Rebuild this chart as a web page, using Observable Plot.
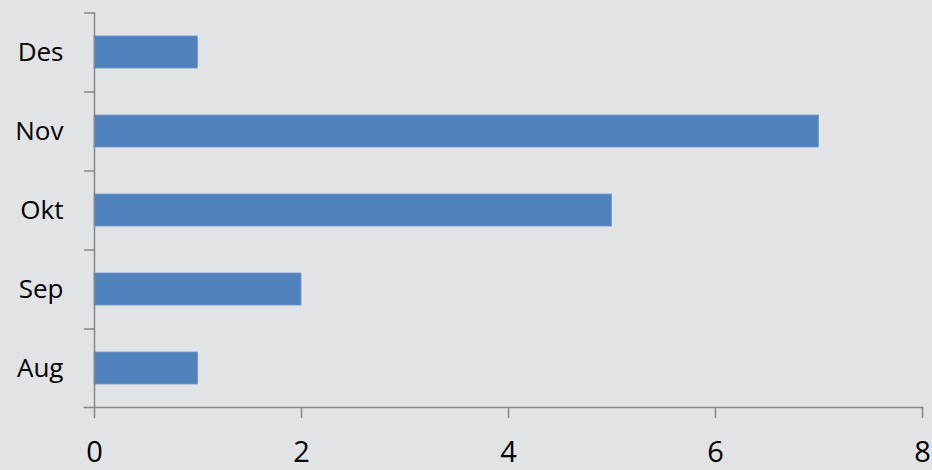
<!DOCTYPE html>
<html>
<head>
<meta charset="utf-8">
<script src="https://cdn.jsdelivr.net/npm/d3@7"></script>
<script src="https://cdn.jsdelivr.net/npm/@observablehq/plot@0.6"></script>
<style>
  html, body { margin: 0; padding: 0; background: #e2e3e5; }
  #chart { width: 932px; height: 470px; }
</style>
</head>
<body>
<div id="chart"></div>
<script>
const months = ["Des", "Nov", "Okt", "Sep", "Aug"];
const counts = [1, 7, 5, 2, 1];
const xTicks = [0, 2, 4, 6, 8];

const data = months.map((m, i) => ({month: m, value: counts[i]}));

const W = 932, H = 470;
const mTop = 12, mBottom = 63, mLeft = 94, mRight = 10;
const step = (H - mTop - mBottom) / months.length;
const axisColor = "#868686";

const chart = Plot.plot({
  width: W,
  height: H,
  marginTop: mTop,
  marginBottom: mBottom,
  marginLeft: mLeft,
  marginRight: mRight,
  style: {background: "transparent", fontFamily: "'Open Sans', sans-serif", color: "#000"},
  x: {domain: [0, 8], ticks: xTicks},
  y: {domain: months, paddingInner: 0.6, paddingOuter: 0.3},
  marks: [
    Plot.barX(data, {x: "value", y: "month", fill: "#4f81bd", stroke: "#6f98cc", strokeWidth: 0.8}),
    Plot.ruleX([0], {stroke: axisColor, strokeWidth: 1.5}),
    Plot.frame({anchor: "bottom", stroke: axisColor, strokeWidth: 1.5, insetLeft: -10}),
    Plot.axisX({ticks: xTicks, tickSize: 11, tickPadding: 23, stroke: axisColor, strokeWidth: 1.5, fontSize: 29, fill: "#000", label: null}),
    Plot.axisY({tickSize: 10, dy: -step / 2, tickFormat: () => "", stroke: axisColor, strokeWidth: 1.5, label: null}),
    Plot.axisY({tickSize: 0, tickPadding: 31, fontSize: 26, fill: "#000", label: null})
  ]
});
document.getElementById("chart").appendChild(chart);
</script>
</body>
</html>
